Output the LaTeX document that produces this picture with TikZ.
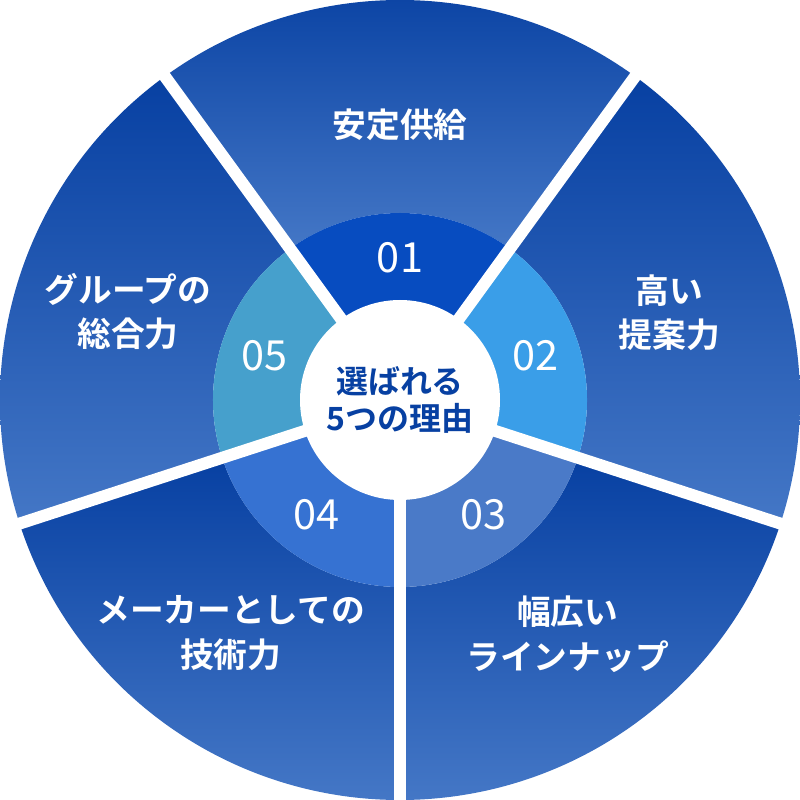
\documentclass[tikz,border=0pt]{standalone}
\usepackage{fontspec}
\setmainfont{Noto Sans CJK JP}[BoldFont={Noto Sans CJK JP Bold}]
\definecolor{deepblue}{HTML}{0740A2}
\definecolor{paleblue}{HTML}{4477C6}
\definecolor{ringA}{HTML}{074CC0}
\definecolor{ringB}{HTML}{3A9EE8}
\definecolor{ringC}{HTML}{4A7AC8}
\definecolor{ringD}{HTML}{3672D2}
\definecolor{ringE}{HTML}{46A0CC}
\tikzset{
  reason/.style={text=white, font=\fontsize{9.6}{12.6}\selectfont\bfseries, align=center},
  numlabel/.style={text=white, font=\fontsize{11.8}{13}\selectfont},
  gap/.style={white, line width=0.12cm}
}
\begin{document}
\begin{tikzpicture}
\useasboundingbox (-4,-4) rectangle (4,4);
% outer band
\foreach \c in {90,18,-54,-126,162}
  \shade[top color=deepblue, bottom color=paleblue] (\c+36:1.87) -- (\c+36:4) arc[start angle=\c+36, end angle=\c-36, radius=4] -- (\c-36:1.87) arc[start angle=\c-36, end angle=\c+36, radius=1.87] -- cycle;
% inner ring
\foreach \c/\col in {90/ringA,18/ringB,-54/ringC,-126/ringD,162/ringE}
  \fill[\col] (0,0) -- (\c+36:1.87) arc[start angle=\c+36, end angle=\c-36, radius=1.87] -- cycle;
% separators
\coordinate (o) at (0,0);
\foreach \c [count=\i] in {126,54,-18,-90,198} {
  \coordinate (e\i) at (\c:4.2);
  \draw[gap] (o) -- (e\i);
}
\node[circle, fill=white, minimum size=2cm, inner sep=0pt, text=deepblue, font=\fontsize{9.1}{10.3}\selectfont\bfseries, align=center] (hub) at (o) {選ばれる\\5つの理由};
\foreach \c [count=\i] in {90,18,-54,-126,162}
  \node[numlabel] (n\i) at (\c:1.42) {0\i};
\node[reason] (r1) at (90:2.75) {安定供給};
\node[reason] (r2) at (18:2.83) {高い\\提案力};
\node[reason] (r3) at (-54.4:2.88) {幅広い\\ラインナップ};
\node[reason] (r4) at (-126:2.88) {メーカーとしての\\技術力};
\node[reason] (r5) at (162:2.86) {グループの\\総合力};
\end{tikzpicture}
\end{document}
